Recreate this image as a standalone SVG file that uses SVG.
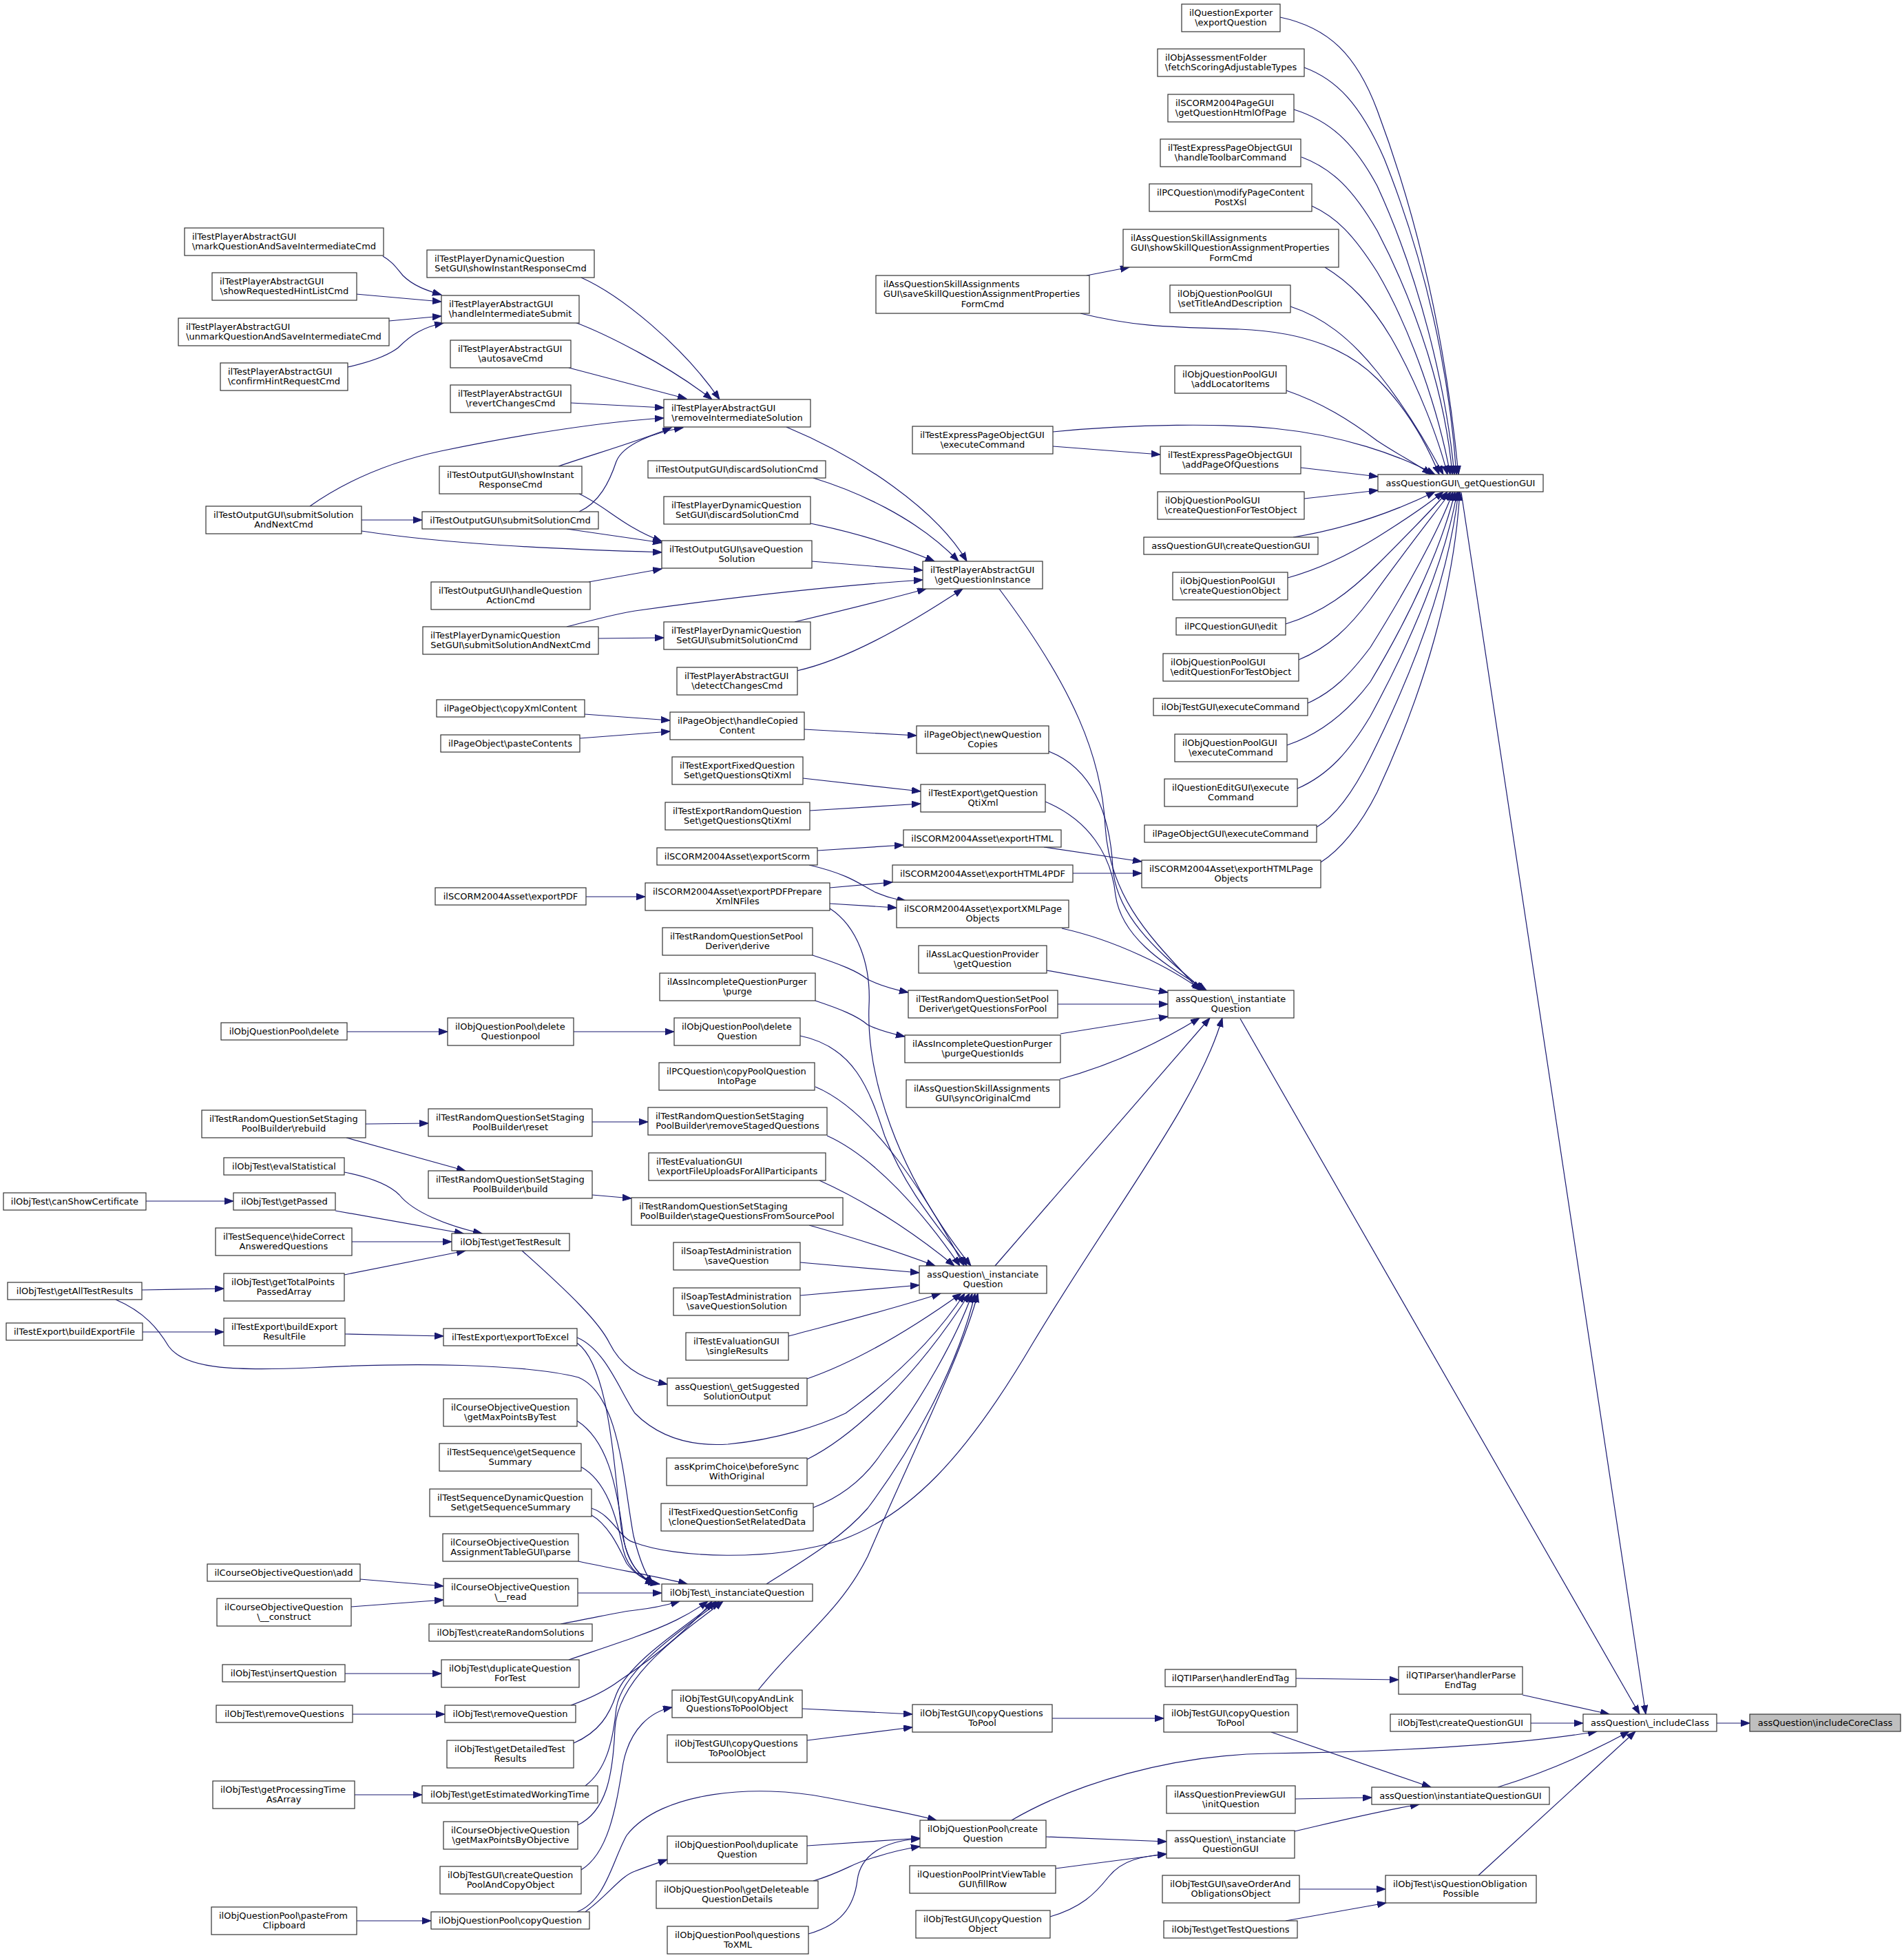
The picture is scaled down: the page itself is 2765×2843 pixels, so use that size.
<svg xmlns="http://www.w3.org/2000/svg" width="2765" height="2843" viewBox="0 0 2765 2843">
<style>
rect{fill:#fff;stroke:#333;stroke-width:1.2}
rect.hl{fill:#bfbfbf}
text{font-family:"DejaVu Sans",sans-serif;font-size:13px;fill:#000}
text.c{text-anchor:middle}
.edges path{fill:none;stroke:#191970;stroke-width:1.2;marker-end:url(#a)}
</style>
<defs>
<marker id="a" markerUnits="userSpaceOnUse" markerWidth="14" markerHeight="10" refX="13" refY="4.7" orient="auto">
<path d="M0,0 L13,4.7 L0,9.4 z" fill="#191970" stroke="#191970" stroke-width="1"/>
</marker>
</defs>
<rect x="0" y="0" width="2765" height="2843" style="fill:#fff;stroke:none"/>
<g class="edges">
<path d="M2493,2502 L2541,2502"/>
<path d="M2122,715 L2390,2489"/>
<path d="M1801,1479 L2381,2489"/>
<path d="M2211,2461 L2337,2489"/>
<path d="M2223,2502 L2299,2502"/>
<path d="M1469,2643 C1560,2590 1700,2548 1843,2546 C2000,2544 2200,2535 2319,2514"/>
<path d="M2175,2595 C2230,2578 2300,2550 2366,2514"/>
<path d="M2147,2723 L2375,2514"/>
<path d="M1846,2515 L2078,2595"/>
<path d="M1881,2612 L1992,2610"/>
<path d="M1880,2659 C1940,2645 2000,2630 2061,2620"/>
<path d="M1887,2743 L2012,2743"/>
<path d="M1867,2789 L2013,2763"/>
<path d="M1882,2437 L2031,2439"/>
<path d="M1528,2495 L1690,2495"/>
<path d="M1165,2481 L1325,2489"/>
<path d="M1172,2527 L1325,2508"/>
<path d="M1519,2667 L1694,2674"/>
<path d="M1533,2713 L1694,2692"/>
<path d="M1525,2783 C1570,2770 1590,2750 1610,2725 C1630,2700 1660,2695 1694,2692"/>
<path d="M1172,2680 L1336,2669"/>
<path d="M1181,2731 C1220,2720 1240,2705 1260,2700 C1290,2690 1310,2685 1336,2681"/>
<path d="M1174,2808 C1220,2795 1240,2770 1245,2730 C1250,2690 1290,2672 1336,2670"/>
<path d="M838,2776 C880,2760 890,2700 910,2665 C960,2600 1100,2590 1200,2610 C1280,2625 1330,2635 1360,2643"/>
<path d="M850,2776 C885,2750 900,2725 922,2717 C940,2710 955,2705 969,2700"/>
<path d="M844,2715 C885,2690 895,2620 905,2560 C915,2510 945,2485 976,2479"/>
<path d="M556,372 C570,380 575,388 585,400 C600,415 620,422 641,428"/>
<path d="M517,427 L641,438"/>
<path d="M565,466 L641,459"/>
<path d="M505,533 C540,525 565,515 578,505 C598,485 615,475 644,469"/>
<path d="M844,403 C900,428 990,500 1045,580"/>
<path d="M835,468 C880,485 970,530 1034,580"/>
<path d="M826,534 L997,579"/>
<path d="M829,585 L964,592"/>
<path d="M450,735 C500,700 560,672 640,655 C760,630 880,612 964,607"/>
<path d="M811,677 C860,660 930,640 975,621"/>
<path d="M841,743 C870,730 885,700 895,670 C905,645 950,628 992,621"/>
<path d="M525,755 L613,755"/>
<path d="M525,771 C650,790 800,797 961,802"/>
<path d="M823,768 L961,788"/>
<path d="M855,845 L961,826"/>
<path d="M841,717 C880,735 905,765 961,786"/>
<path d="M823,910 C870,898 900,890 922,887 C1100,862 1250,848 1340,842"/>
<path d="M869,927 L964,926"/>
<path d="M1179,815 L1340,828"/>
<path d="M1181,694 C1240,712 1330,750 1392,815"/>
<path d="M1142,620 C1250,665 1360,740 1404,815"/>
<path d="M1177,760 C1250,775 1310,795 1357,815"/>
<path d="M1154,903 C1230,885 1290,870 1345,855"/>
<path d="M1157,974 C1220,960 1300,920 1398,855"/>
<path d="M849,1037 L973,1046"/>
<path d="M842,1072 L973,1062"/>
<path d="M1168,1059 L1331,1068"/>
<path d="M1166,1130 L1337,1149"/>
<path d="M1176,1177 L1337,1167"/>
<path d="M1187,1235 L1312,1227"/>
<path d="M1516,1230 L1658,1251"/>
<path d="M1558,1268 L1658,1268"/>
<path d="M1205,1289 L1296,1281"/>
<path d="M1175,1256 C1235,1270 1250,1285 1270,1295 C1290,1303 1300,1306 1316,1308"/>
<path d="M1205,1312 L1302,1318"/>
<path d="M851,1302 L937,1302"/>
<path d="M1205,1319 C1245,1345 1265,1400 1262,1460 C1258,1560 1300,1700 1410,1838"/>
<path d="M1180,1387 C1220,1400 1245,1410 1260,1422 C1280,1432 1300,1437 1319,1441"/>
<path d="M1184,1453 C1220,1465 1245,1475 1260,1488 C1280,1498 1300,1502 1314,1505"/>
<path d="M1859,25 C1930,40 1970,80 2000,160 C2060,320 2100,500 2118,689"/>
<path d="M1894,98 C1940,115 1975,150 2010,230 C2070,380 2105,540 2115,689"/>
<path d="M1879,159 C1930,175 1965,205 2000,270 C2060,400 2100,560 2112,689"/>
<path d="M1890,228 C1935,245 1965,275 2000,335 C2060,450 2100,580 2109,689"/>
<path d="M1905,299 C1940,315 1965,340 2000,395 C2050,480 2090,600 2106,689"/>
<path d="M1924,388 C1960,410 1990,440 2020,490 C2060,560 2090,640 2102,689"/>
<path d="M1569,455 C1650,475 1700,475 1800,478 C1900,482 1960,510 2000,550 C2040,590 2070,640 2090,689"/>
<path d="M1874,445 C1920,460 1960,490 2000,540 C2040,590 2070,640 2096,689"/>
<path d="M1868,567 C1920,585 1960,610 2000,640 C2030,660 2060,675 2078,689"/>
<path d="M1529,627 C1650,615 1780,615 1850,622 C1950,632 2030,660 2084,689"/>
<path d="M1889,679 L2001,692"/>
<path d="M1529,648 L1685,660"/>
<path d="M1578,400 L1640,388"/>
<path d="M1894,724 L2001,712"/>
<path d="M1878,780 C1940,770 2010,750 2084,714"/>
<path d="M1870,839 C1920,825 1960,805 2000,780 C2040,755 2070,735 2096,714"/>
<path d="M1867,906 C1920,890 1960,860 2000,820 C2040,780 2080,740 2102,714"/>
<path d="M1886,958 C1930,940 1960,910 1990,870 C2040,800 2080,750 2107,714"/>
<path d="M1899,1021 C1935,1005 1960,980 1990,940 C2040,860 2090,770 2110,714"/>
<path d="M1869,1082 C1920,1065 1960,1030 1990,990 C2050,890 2095,790 2113,714"/>
<path d="M1884,1145 C1930,1125 1960,1090 1990,1040 C2050,930 2100,810 2116,714"/>
<path d="M1912,1201 C1940,1185 1965,1150 1990,1100 C2060,960 2105,830 2118,714"/>
<path d="M1918,1252 C1945,1235 1975,1200 2000,1150 C2070,1000 2112,850 2120,714"/>
<path d="M1451,855 C1560,1000 1600,1100 1605,1200 C1612,1310 1680,1370 1742,1438"/>
<path d="M1523,1091 C1585,1115 1612,1180 1616,1260 C1622,1340 1700,1395 1748,1438"/>
<path d="M1518,1164 C1580,1190 1614,1240 1620,1300 C1630,1370 1710,1410 1752,1438"/>
<path d="M1542,1348 C1620,1365 1700,1405 1745,1438"/>
<path d="M1520,1409 L1696,1441"/>
<path d="M1536,1458 L1696,1458"/>
<path d="M1540,1501 L1696,1476"/>
<path d="M1539,1567 C1620,1545 1690,1510 1742,1478"/>
<path d="M1445,1838 L1757,1478"/>
<path d="M859,2190 C890,2200 900,2235 922,2240 C980,2262 1120,2268 1222,2236 C1320,2200 1400,2120 1500,1950 C1620,1750 1740,1600 1775,1478"/>
<path d="M1162,1504 C1240,1520 1262,1580 1285,1650 C1320,1740 1380,1800 1404,1838"/>
<path d="M1184,1578 C1260,1610 1330,1710 1400,1838"/>
<path d="M1201,1649 C1270,1680 1340,1760 1394,1838"/>
<path d="M1190,1714 C1270,1750 1340,1800 1386,1838"/>
<path d="M1175,1779 C1250,1800 1310,1820 1358,1838"/>
<path d="M1162,1833 L1335,1848"/>
<path d="M1162,1881 L1335,1866"/>
<path d="M1145,1940 C1220,1920 1300,1900 1366,1878"/>
<path d="M1172,2002 C1250,1975 1330,1925 1396,1878"/>
<path d="M838,1942 C880,1960 900,2020 922,2052 C960,2090 1010,2100 1057,2097 C1130,2090 1190,2070 1228,2052 C1300,2000 1360,1940 1401,1878"/>
<path d="M1172,2119 C1240,2085 1330,2000 1408,1878"/>
<path d="M1181,2189 C1230,2170 1260,2140 1280,2110 C1340,2030 1390,1940 1412,1878"/>
<path d="M1113,2300 C1160,2270 1220,2236 1260,2190 C1320,2110 1390,1990 1416,1878"/>
<path d="M1101,2454 C1160,2380 1220,2340 1260,2260 C1320,2120 1400,1960 1420,1878"/>
<path d="M504,1498 L650,1498"/>
<path d="M833,1498 L979,1498"/>
<path d="M531,1632 L622,1631"/>
<path d="M503,1652 L676,1700"/>
<path d="M860,1629 L941,1629"/>
<path d="M860,1735 L917,1740"/>
<path d="M212,1744 L339,1744"/>
<path d="M500,1702 C540,1710 565,1720 580,1735 C600,1760 650,1780 700,1791"/>
<path d="M487,1758 L673,1791"/>
<path d="M511,1803 L656,1803"/>
<path d="M500,1851 L676,1816"/>
<path d="M206,1873 L325,1871"/>
<path d="M207,1934 L325,1934"/>
<path d="M501,1937 L644,1940"/>
<path d="M758,1816 C830,1880 870,1920 885,1950 C900,1980 925,2000 969,2010"/>
<path d="M168,1887 C210,1905 230,1930 245,1955 C270,1990 350,1990 450,1986 C600,1978 760,1980 840,2000 C900,2025 905,2150 920,2230 C930,2270 940,2290 948,2300"/>
<path d="M838,1950 C880,1980 890,2100 900,2200 C905,2260 925,2290 950,2300"/>
<path d="M838,2063 C880,2090 895,2150 905,2230 C910,2270 930,2290 952,2300"/>
<path d="M844,2130 C880,2150 895,2200 905,2250 C912,2280 935,2295 955,2300"/>
<path d="M859,2200 C885,2215 900,2250 910,2270 C925,2290 945,2298 958,2300"/>
<path d="M840,2267 C900,2280 960,2290 998,2300"/>
<path d="M839,2313 L961,2313"/>
<path d="M814,2358 C860,2350 900,2340 922,2338 C950,2335 970,2330 987,2325"/>
<path d="M826,2410 C870,2395 900,2385 922,2377 C970,2360 1000,2345 1028,2325"/>
<path d="M829,2476 C860,2465 880,2455 900,2440 C960,2400 1010,2355 1034,2325"/>
<path d="M833,2531 C870,2515 885,2490 895,2460 C915,2410 1000,2360 1040,2325"/>
<path d="M850,2593 C880,2570 890,2530 895,2480 C905,2420 1000,2360 1045,2325"/>
<path d="M839,2650 C880,2630 890,2580 893,2510 C898,2430 1000,2365 1050,2325"/>
<path d="M523,2293 L644,2303"/>
<path d="M510,2333 L644,2323"/>
<path d="M501,2430 L641,2430"/>
<path d="M512,2489 L646,2489"/>
<path d="M515,2606 L613,2606"/>
<path d="M518,2789 L626,2789"/>
</g>
<g id="n1"><rect x="268" y="331" width="289" height="40"/><text x="279" y="347.5">ilTestPlayerAbstractGUI</text><text class="c" x="412.5" y="362">\markQuestionAndSaveIntermediateCmd</text></g>
<g id="n2"><rect x="308" y="396" width="210" height="40"/><text x="319" y="412.5">ilTestPlayerAbstractGUI</text><text class="c" x="413" y="427">\showRequestedHintListCmd</text></g>
<g id="n3"><rect x="259" y="462" width="306" height="40"/><text x="270" y="478.5">ilTestPlayerAbstractGUI</text><text class="c" x="412" y="493">\unmarkQuestionAndSaveIntermediateCmd</text></g>
<g id="n4"><rect x="320" y="527" width="185" height="40"/><text x="331" y="543.5">ilTestPlayerAbstractGUI</text><text class="c" x="412.5" y="558">\confirmHintRequestCmd</text></g>
<g id="n5"><rect x="620" y="363" width="243" height="40"/><text x="631" y="379.5">ilTestPlayerDynamicQuestion</text><text class="c" x="741.5" y="394">SetGUI\showInstantResponseCmd</text></g>
<g id="n6"><rect x="641" y="429" width="200" height="40"/><text x="652" y="445.5">ilTestPlayerAbstractGUI</text><text class="c" x="741" y="460">\handleIntermediateSubmit</text></g>
<g id="n7"><rect x="654" y="494" width="175" height="40"/><text x="665" y="510.5">ilTestPlayerAbstractGUI</text><text class="c" x="741.5" y="525">\autosaveCmd</text></g>
<g id="n8"><rect x="654" y="559" width="175" height="40"/><text x="665" y="575.5">ilTestPlayerAbstractGUI</text><text class="c" x="741.5" y="590">\revertChangesCmd</text></g>
<g id="n9"><rect x="638" y="677" width="207" height="40"/><text x="649" y="693.5">ilTestOutputGUI\showInstant</text><text class="c" x="741.5" y="708">ResponseCmd</text></g>
<g id="n10"><rect x="1716" y="6" width="143" height="40"/><text x="1727" y="22.5">ilQuestionExporter</text><text class="c" x="1787.5" y="37">\exportQuestion</text></g>
<g id="n11"><rect x="1681" y="71" width="213" height="40"/><text x="1692" y="87.5">ilObjAssessmentFolder</text><text class="c" x="1787.5" y="102">\fetchScoringAdjustableTypes</text></g>
<g id="n12"><rect x="1696" y="137" width="183" height="40"/><text x="1707" y="153.5">ilSCORM2004PageGUI</text><text class="c" x="1787.5" y="168">\getQuestionHtmlOfPage</text></g>
<g id="n13"><rect x="1685" y="202" width="204" height="40"/><text x="1696" y="218.5">ilTestExpressPageObjectGUI</text><text class="c" x="1787" y="233">\handleToolbarCommand</text></g>
<g id="n14"><rect x="1669" y="267" width="236" height="40"/><text x="1680" y="283.5">ilPCQuestion\modifyPageContent</text><text class="c" x="1787" y="298">PostXsl</text></g>
<g id="n15"><rect x="1631" y="333" width="313" height="55"/><text x="1642" y="349.5">ilAssQuestionSkillAssignments</text><text x="1642" y="364">GUI\showSkillQuestionAssignmentProperties</text><text class="c" x="1787.5" y="378.5">FormCmd</text></g>
<g id="n16"><rect x="1272" y="400" width="310" height="55"/><text x="1283" y="416.5">ilAssQuestionSkillAssignments</text><text x="1283" y="431">GUI\saveSkillQuestionAssignmentProperties</text><text class="c" x="1427" y="445.5">FormCmd</text></g>
<g id="n17"><rect x="1699" y="414" width="175" height="40"/><text x="1710" y="430.5">ilObjQuestionPoolGUI</text><text class="c" x="1786.5" y="445">\setTitleAndDescription</text></g>
<g id="n18"><rect x="1706" y="531" width="162" height="40"/><text x="1717" y="547.5">ilObjQuestionPoolGUI</text><text class="c" x="1787" y="562">\addLocatorItems</text></g>
<g id="n19"><rect x="964" y="580" width="213" height="40"/><text x="975" y="596.5">ilTestPlayerAbstractGUI</text><text class="c" x="1070.5" y="611">\removeIntermediateSolution</text></g>
<g id="n20"><rect x="1325" y="619" width="204" height="40"/><text x="1336" y="635.5">ilTestExpressPageObjectGUI</text><text class="c" x="1427" y="650">\executeCommand</text></g>
<g id="n21"><rect x="1685" y="648" width="204" height="40"/><text x="1696" y="664.5">ilTestExpressPageObjectGUI</text><text class="c" x="1787" y="679">\addPageOfQuestions</text></g>
<g id="n22"><rect x="941" y="669" width="258" height="25"/><text class="c" x="1070" y="685.5">ilTestOutputGUI\discardSolutionCmd</text></g>
<g id="n23"><rect x="2001" y="689" width="240" height="25"/><text class="c" x="2121" y="705.5">assQuestionGUI\_getQuestionGUI</text></g>
<g id="n24"><rect x="299" y="735" width="226" height="40"/><text x="310" y="751.5">ilTestOutputGUI\submitSolution</text><text class="c" x="412" y="766">AndNextCmd</text></g>
<g id="n25"><rect x="613" y="743" width="256" height="25"/><text class="c" x="741" y="759.5">ilTestOutputGUI\submitSolutionCmd</text></g>
<g id="n26"><rect x="626" y="845" width="231" height="40"/><text x="637" y="861.5">ilTestOutputGUI\handleQuestion</text><text class="c" x="741.5" y="876">ActionCmd</text></g>
<g id="n27"><rect x="614" y="910" width="255" height="40"/><text x="625" y="926.5">ilTestPlayerDynamicQuestion</text><text class="c" x="741.5" y="941">SetGUI\submitSolutionAndNextCmd</text></g>
<g id="n28"><rect x="634" y="1016" width="215" height="25"/><text class="c" x="741.5" y="1032.5">ilPageObject\copyXmlContent</text></g>
<g id="n29"><rect x="640" y="1067" width="202" height="25"/><text class="c" x="741" y="1083.5">ilPageObject\pasteContents</text></g>
<g id="n30"><rect x="632" y="1289" width="219" height="25"/><text class="c" x="741.5" y="1305.5">ilSCORM2004Asset\exportPDF</text></g>
<g id="n31"><rect x="964" y="721" width="213" height="40"/><text x="975" y="737.5">ilTestPlayerDynamicQuestion</text><text class="c" x="1070.5" y="752">SetGUI\discardSolutionCmd</text></g>
<g id="n32"><rect x="961" y="785" width="218" height="40"/><text x="972" y="801.5">ilTestOutputGUI\saveQuestion</text><text class="c" x="1070" y="816">Solution</text></g>
<g id="n33"><rect x="1340" y="815" width="174" height="40"/><text x="1351" y="831.5">ilTestPlayerAbstractGUI</text><text class="c" x="1427" y="846">\getQuestionInstance</text></g>
<g id="n34"><rect x="964" y="903" width="213" height="40"/><text x="975" y="919.5">ilTestPlayerDynamicQuestion</text><text class="c" x="1070.5" y="934">SetGUI\submitSolutionCmd</text></g>
<g id="n35"><rect x="983" y="969" width="175" height="40"/><text x="994" y="985.5">ilTestPlayerAbstractGUI</text><text class="c" x="1070.5" y="1000">\detectChangesCmd</text></g>
<g id="n36"><rect x="973" y="1034" width="195" height="40"/><text x="984" y="1050.5">ilPageObject\handleCopied</text><text class="c" x="1070.5" y="1065">Content</text></g>
<g id="n37"><rect x="1331" y="1054" width="192" height="40"/><text x="1342" y="1070.5">ilPageObject\newQuestion</text><text class="c" x="1427" y="1085">Copies</text></g>
<g id="n38"><rect x="976" y="1099" width="190" height="40"/><text x="987" y="1115.5">ilTestExportFixedQuestion</text><text class="c" x="1071" y="1130">Set\getQuestionsQtiXml</text></g>
<g id="n39"><rect x="1337" y="1139" width="181" height="40"/><text x="1348" y="1155.5">ilTestExport\getQuestion</text><text class="c" x="1427.5" y="1170">QtiXml</text></g>
<g id="n40"><rect x="966" y="1165" width="210" height="40"/><text x="977" y="1181.5">ilTestExportRandomQuestion</text><text class="c" x="1071" y="1196">Set\getQuestionsQtiXml</text></g>
<g id="n41"><rect x="1312" y="1205" width="229" height="25"/><text class="c" x="1426.5" y="1221.5">ilSCORM2004Asset\exportHTML</text></g>
<g id="n42"><rect x="954" y="1231" width="233" height="25"/><text class="c" x="1070.5" y="1247.5">ilSCORM2004Asset\exportScorm</text></g>
<g id="n43"><rect x="1296" y="1256" width="262" height="25"/><text class="c" x="1427" y="1272.5">ilSCORM2004Asset\exportHTML4PDF</text></g>
<g id="n44"><rect x="1658" y="1249" width="260" height="40"/><text x="1669" y="1265.5">ilSCORM2004Asset\exportHTMLPage</text><text class="c" x="1788" y="1280">Objects</text></g>
<g id="n45"><rect x="937" y="1282" width="268" height="40"/><text x="948" y="1298.5">ilSCORM2004Asset\exportPDFPrepare</text><text class="c" x="1071" y="1313">XmlNFiles</text></g>
<g id="n46"><rect x="1302" y="1307" width="250" height="40"/><text x="1313" y="1323.5">ilSCORM2004Asset\exportXMLPage</text><text class="c" x="1427" y="1338">Objects</text></g>
<g id="n47"><rect x="962" y="1347" width="218" height="40"/><text x="973" y="1363.5">ilTestRandomQuestionSetPool</text><text class="c" x="1071" y="1378">Deriver\derive</text></g>
<g id="n48"><rect x="1334" y="1373" width="186" height="40"/><text x="1345" y="1389.5">ilAssLacQuestionProvider</text><text class="c" x="1427" y="1404">\getQuestion</text></g>
<g id="n49"><rect x="958" y="1413" width="226" height="40"/><text x="969" y="1429.5">ilAssIncompleteQuestionPurger</text><text class="c" x="1071" y="1444">\purge</text></g>
<g id="n50"><rect x="1681" y="714" width="213" height="40"/><text x="1692" y="730.5">ilObjQuestionPoolGUI</text><text class="c" x="1787.5" y="745">\createQuestionForTestObject</text></g>
<g id="n51"><rect x="1661" y="780" width="253" height="25"/><text class="c" x="1787.5" y="796.5">assQuestionGUI\createQuestionGUI</text></g>
<g id="n52"><rect x="1703" y="831" width="167" height="40"/><text x="1714" y="847.5">ilObjQuestionPoolGUI</text><text class="c" x="1786.5" y="862">\createQuestionObject</text></g>
<g id="n53"><rect x="1708" y="897" width="159" height="25"/><text class="c" x="1787.5" y="913.5">ilPCQuestionGUI\edit</text></g>
<g id="n54"><rect x="1689" y="949" width="197" height="40"/><text x="1700" y="965.5">ilObjQuestionPoolGUI</text><text class="c" x="1787.5" y="980">\editQuestionForTestObject</text></g>
<g id="n55"><rect x="1675" y="1014" width="224" height="25"/><text class="c" x="1787" y="1030.5">ilObjTestGUI\executeCommand</text></g>
<g id="n56"><rect x="1706" y="1066" width="163" height="40"/><text x="1717" y="1082.5">ilObjQuestionPoolGUI</text><text class="c" x="1787.5" y="1097">\executeCommand</text></g>
<g id="n57"><rect x="1691" y="1131" width="193" height="40"/><text x="1702" y="1147.5">ilQuestionEditGUI\execute</text><text class="c" x="1787.5" y="1162">Command</text></g>
<g id="n58"><rect x="1662" y="1198" width="250" height="25"/><text class="c" x="1787" y="1214.5">ilPageObjectGUI\executeCommand</text></g>
<g id="n59"><rect x="321" y="1485" width="183" height="25"/><text class="c" x="412.5" y="1501.5">ilObjQuestionPool\delete</text></g>
<g id="n60"><rect x="650" y="1478" width="183" height="40"/><text x="661" y="1494.5">ilObjQuestionPool\delete</text><text class="c" x="741.5" y="1509">Questionpool</text></g>
<g id="n61"><rect x="293" y="1612" width="238" height="40"/><text x="304" y="1628.5">ilTestRandomQuestionSetStaging</text><text class="c" x="412" y="1643">PoolBuilder\rebuild</text></g>
<g id="n62"><rect x="622" y="1610" width="238" height="40"/><text x="633" y="1626.5">ilTestRandomQuestionSetStaging</text><text class="c" x="741" y="1641">PoolBuilder\reset</text></g>
<g id="n63"><rect x="325" y="1681" width="175" height="25"/><text class="c" x="412.5" y="1697.5">ilObjTest\evalStatistical</text></g>
<g id="n64"><rect x="622" y="1700" width="238" height="40"/><text x="633" y="1716.5">ilTestRandomQuestionSetStaging</text><text class="c" x="741" y="1731">PoolBuilder\build</text></g>
<g id="n65"><rect x="5" y="1732" width="207" height="25"/><text class="c" x="108.5" y="1748.5">ilObjTest\canShowCertificate</text></g>
<g id="n66"><rect x="339" y="1732" width="148" height="25"/><text class="c" x="413" y="1748.5">ilObjTest\getPassed</text></g>
<g id="n67"><rect x="313" y="1783" width="198" height="40"/><text x="324" y="1799.5">ilTestSequence\hideCorrect</text><text class="c" x="412" y="1814">AnsweredQuestions</text></g>
<g id="n68"><rect x="656" y="1791" width="171" height="25"/><text class="c" x="741.5" y="1807.5">ilObjTest\getTestResult</text></g>
<g id="n69"><rect x="11" y="1862" width="195" height="25"/><text class="c" x="108.5" y="1878.5">ilObjTest\getAllTestResults</text></g>
<g id="n70"><rect x="325" y="1849" width="175" height="40"/><text x="336" y="1865.5">ilObjTest\getTotalPoints</text><text class="c" x="412.5" y="1880">PassedArray</text></g>
<g id="n71"><rect x="9" y="1921" width="198" height="25"/><text class="c" x="108" y="1937.5">ilTestExport\buildExportFile</text></g>
<g id="n72"><rect x="325" y="1914" width="176" height="40"/><text x="336" y="1930.5">ilTestExport\buildExport</text><text class="c" x="413" y="1945">ResultFile</text></g>
<g id="n73"><rect x="644" y="1929" width="194" height="25"/><text class="c" x="741" y="1945.5">ilTestExport\exportToExcel</text></g>
<g id="n74"><rect x="644" y="2031" width="194" height="40"/><text x="655" y="2047.5">ilCourseObjectiveQuestion</text><text class="c" x="741" y="2062">\getMaxPointsByTest</text></g>
<g id="n75"><rect x="638" y="2096" width="206" height="40"/><text x="649" y="2112.5">ilTestSequence\getSequence</text><text class="c" x="741" y="2127">Summary</text></g>
<g id="n76"><rect x="1319" y="1438" width="217" height="40"/><text x="1330" y="1454.5">ilTestRandomQuestionSetPool</text><text class="c" x="1427.5" y="1469">Deriver\getQuestionsForPool</text></g>
<g id="n77"><rect x="1696" y="1438" width="183" height="40"/><text x="1707" y="1454.5">assQuestion\_instantiate</text><text class="c" x="1787.5" y="1469">Question</text></g>
<g id="n78"><rect x="979" y="1478" width="183" height="40"/><text x="990" y="1494.5">ilObjQuestionPool\delete</text><text class="c" x="1070.5" y="1509">Question</text></g>
<g id="n79"><rect x="1314" y="1503" width="226" height="40"/><text x="1325" y="1519.5">ilAssIncompleteQuestionPurger</text><text class="c" x="1427" y="1534">\purgeQuestionIds</text></g>
<g id="n80"><rect x="957" y="1543" width="226" height="40"/><text x="968" y="1559.5">ilPCQuestion\copyPoolQuestion</text><text class="c" x="1070" y="1574">IntoPage</text></g>
<g id="n81"><rect x="1316" y="1568" width="223" height="40"/><text x="1327" y="1584.5">ilAssQuestionSkillAssignments</text><text class="c" x="1427.5" y="1599">GUI\syncOriginalCmd</text></g>
<g id="n82"><rect x="941" y="1608" width="260" height="40"/><text x="952" y="1624.5">ilTestRandomQuestionSetStaging</text><text class="c" x="1071" y="1639">PoolBuilder\removeStagedQuestions</text></g>
<g id="n83"><rect x="942" y="1674" width="257" height="40"/><text x="953" y="1690.5">ilTestEvaluationGUI</text><text class="c" x="1070.5" y="1705">\exportFileUploadsForAllParticipants</text></g>
<g id="n84"><rect x="917" y="1739" width="307" height="40"/><text x="928" y="1755.5">ilTestRandomQuestionSetStaging</text><text class="c" x="1070.5" y="1770">PoolBuilder\stageQuestionsFromSourcePool</text></g>
<g id="n85"><rect x="978" y="1804" width="184" height="40"/><text x="989" y="1820.5">ilSoapTestAdministration</text><text class="c" x="1070" y="1835">\saveQuestion</text></g>
<g id="n86"><rect x="1335" y="1838" width="185" height="40"/><text x="1346" y="1854.5">assQuestion\_instanciate</text><text class="c" x="1427.5" y="1869">Question</text></g>
<g id="n87"><rect x="978" y="1870" width="184" height="40"/><text x="989" y="1886.5">ilSoapTestAdministration</text><text class="c" x="1070" y="1901">\saveQuestionSolution</text></g>
<g id="n88"><rect x="996" y="1935" width="149" height="40"/><text x="1007" y="1951.5">ilTestEvaluationGUI</text><text class="c" x="1070.5" y="1966">\singleResults</text></g>
<g id="n89"><rect x="969" y="2001" width="203" height="40"/><text x="980" y="2017.5">assQuestion\_getSuggested</text><text class="c" x="1070.5" y="2032">SolutionOutput</text></g>
<g id="n90"><rect x="968" y="2117" width="204" height="40"/><text x="979" y="2133.5">assKprimChoice\beforeSync</text><text class="c" x="1070" y="2148">WithOriginal</text></g>
<g id="n91"><rect x="624" y="2162" width="235" height="40"/><text x="635" y="2178.5">ilTestSequenceDynamicQuestion</text><text class="c" x="741.5" y="2193">Set\getSequenceSummary</text></g>
<g id="n92"><rect x="643" y="2227" width="197" height="40"/><text x="654" y="2243.5">ilCourseObjectiveQuestion</text><text class="c" x="741.5" y="2258">AssignmentTableGUI\parse</text></g>
<g id="n93"><rect x="301" y="2271" width="222" height="25"/><text class="c" x="412" y="2287.5">ilCourseObjectiveQuestion\add</text></g>
<g id="n94"><rect x="644" y="2292" width="195" height="40"/><text x="655" y="2308.5">ilCourseObjectiveQuestion</text><text class="c" x="741.5" y="2323">\__read</text></g>
<g id="n95"><rect x="315" y="2321" width="195" height="40"/><text x="326" y="2337.5">ilCourseObjectiveQuestion</text><text class="c" x="412.5" y="2352">\__construct</text></g>
<g id="n96"><rect x="623" y="2358" width="237" height="25"/><text class="c" x="741.5" y="2374.5">ilObjTest\createRandomSolutions</text></g>
<g id="n97"><rect x="323" y="2417" width="178" height="25"/><text class="c" x="412" y="2433.5">ilObjTest\insertQuestion</text></g>
<g id="n98"><rect x="641" y="2410" width="200" height="40"/><text x="652" y="2426.5">ilObjTest\duplicateQuestion</text><text class="c" x="741" y="2441">ForTest</text></g>
<g id="n99"><rect x="314" y="2476" width="198" height="25"/><text class="c" x="413" y="2492.5">ilObjTest\removeQuestions</text></g>
<g id="n100"><rect x="646" y="2476" width="190" height="25"/><text class="c" x="741" y="2492.5">ilObjTest\removeQuestion</text></g>
<g id="n101"><rect x="649" y="2527" width="184" height="40"/><text x="660" y="2543.5">ilObjTest\getDetailedTest</text><text class="c" x="741" y="2558">Results</text></g>
<g id="n102"><rect x="309" y="2586" width="206" height="40"/><text x="320" y="2602.5">ilObjTest\getProcessingTime</text><text class="c" x="412" y="2617">AsArray</text></g>
<g id="n103"><rect x="613" y="2593" width="255" height="25"/><text class="c" x="740.5" y="2609.5">ilObjTest\getEstimatedWorkingTime</text></g>
<g id="n104"><rect x="644" y="2645" width="195" height="40"/><text x="655" y="2661.5">ilCourseObjectiveQuestion</text><text class="c" x="741.5" y="2676">\getMaxPointsByObjective</text></g>
<g id="n105"><rect x="639" y="2710" width="205" height="40"/><text x="650" y="2726.5">ilObjTestGUI\createQuestion</text><text class="c" x="741.5" y="2741">PoolAndCopyObject</text></g>
<g id="n106"><rect x="307" y="2769" width="211" height="40"/><text x="318" y="2785.5">ilObjQuestionPool\pasteFrom</text><text class="c" x="412.5" y="2800">Clipboard</text></g>
<g id="n107"><rect x="626" y="2776" width="230" height="25"/><text class="c" x="741" y="2792.5">ilObjQuestionPool\copyQuestion</text></g>
<g id="n108"><rect x="960" y="2183" width="221" height="40"/><text x="971" y="2199.5">ilTestFixedQuestionSetConfig</text><text class="c" x="1070.5" y="2214">\cloneQuestionSetRelatedData</text></g>
<g id="n109"><rect x="961" y="2300" width="219" height="25"/><text class="c" x="1070.5" y="2316.5">ilObjTest\_instanciateQuestion</text></g>
<g id="n110"><rect x="976" y="2454" width="189" height="40"/><text x="987" y="2470.5">ilObjTestGUI\copyAndLink</text><text class="c" x="1070.5" y="2485">QuestionsToPoolObject</text></g>
<g id="n111"><rect x="1325" y="2475" width="203" height="40"/><text x="1336" y="2491.5">ilObjTestGUI\copyQuestions</text><text class="c" x="1426.5" y="2506">ToPool</text></g>
<g id="n112"><rect x="1690" y="2475" width="194" height="40"/><text x="1701" y="2491.5">ilObjTestGUI\copyQuestion</text><text class="c" x="1787" y="2506">ToPool</text></g>
<g id="n113"><rect x="969" y="2519" width="203" height="40"/><text x="980" y="2535.5">ilObjTestGUI\copyQuestions</text><text class="c" x="1070.5" y="2550">ToPoolObject</text></g>
<g id="n114"><rect x="1692" y="2424" width="190" height="25"/><text class="c" x="1787" y="2440.5">ilQTIParser\handlerEndTag</text></g>
<g id="n115"><rect x="1694" y="2593" width="187" height="40"/><text x="1705" y="2609.5">ilAssQuestionPreviewGUI</text><text class="c" x="1787.5" y="2624">\initQuestion</text></g>
<g id="n116"><rect x="1336" y="2643" width="183" height="40"/><text x="1347" y="2659.5">ilObjQuestionPool\create</text><text class="c" x="1427.5" y="2674">Question</text></g>
<g id="n117"><rect x="969" y="2666" width="203" height="40"/><text x="980" y="2682.5">ilObjQuestionPool\duplicate</text><text class="c" x="1070.5" y="2697">Question</text></g>
<g id="n118"><rect x="1694" y="2658" width="186" height="40"/><text x="1705" y="2674.5">assQuestion\_instanciate</text><text class="c" x="1787" y="2689">QuestionGUI</text></g>
<g id="n119"><rect x="1321" y="2709" width="212" height="40"/><text x="1332" y="2725.5">ilQuestionPoolPrintViewTable</text><text class="c" x="1427" y="2740">GUI\fillRow</text></g>
<g id="n120"><rect x="1688" y="2723" width="199" height="40"/><text x="1699" y="2739.5">ilObjTestGUI\saveOrderAnd</text><text class="c" x="1787.5" y="2754">ObligationsObject</text></g>
<g id="n121"><rect x="953" y="2731" width="235" height="40"/><text x="964" y="2747.5">ilObjQuestionPool\getDeleteable</text><text class="c" x="1070.5" y="2762">QuestionDetails</text></g>
<g id="n122"><rect x="1330" y="2774" width="195" height="40"/><text x="1341" y="2790.5">ilObjTestGUI\copyQuestion</text><text class="c" x="1427.5" y="2805">Object</text></g>
<g id="n123"><rect x="1690" y="2789" width="194" height="25"/><text class="c" x="1787" y="2805.5">ilObjTest\getTestQuestions</text></g>
<g id="n124"><rect x="969" y="2797" width="205" height="40"/><text x="980" y="2813.5">ilObjQuestionPool\questions</text><text class="c" x="1071.5" y="2828">ToXML</text></g>
<g id="n125"><rect x="2031" y="2420" width="180" height="40"/><text x="2042" y="2436.5">ilQTIParser\handlerParse</text><text class="c" x="2121" y="2451">EndTag</text></g>
<g id="n126"><rect x="2019" y="2489" width="204" height="25"/><text class="c" x="2121" y="2505.5">ilObjTest\createQuestionGUI</text></g>
<g id="n127"><rect x="2299" y="2489" width="194" height="25"/><text class="c" x="2396" y="2505.5">assQuestion\_includeClass</text></g>
<g id="n128"><rect class="hl" x="2541" y="2489" width="219" height="25"/><text class="c" x="2650.5" y="2505.5">assQuestion\includeCoreClass</text></g>
<g id="n129"><rect x="1992" y="2595" width="258" height="25"/><text class="c" x="2121" y="2611.5">assQuestion\instantiateQuestionGUI</text></g>
<g id="n130"><rect x="2012" y="2723" width="219" height="40"/><text x="2023" y="2739.5">ilObjTest\isQuestionObligation</text><text class="c" x="2121.5" y="2754">Possible</text></g>
</svg>
